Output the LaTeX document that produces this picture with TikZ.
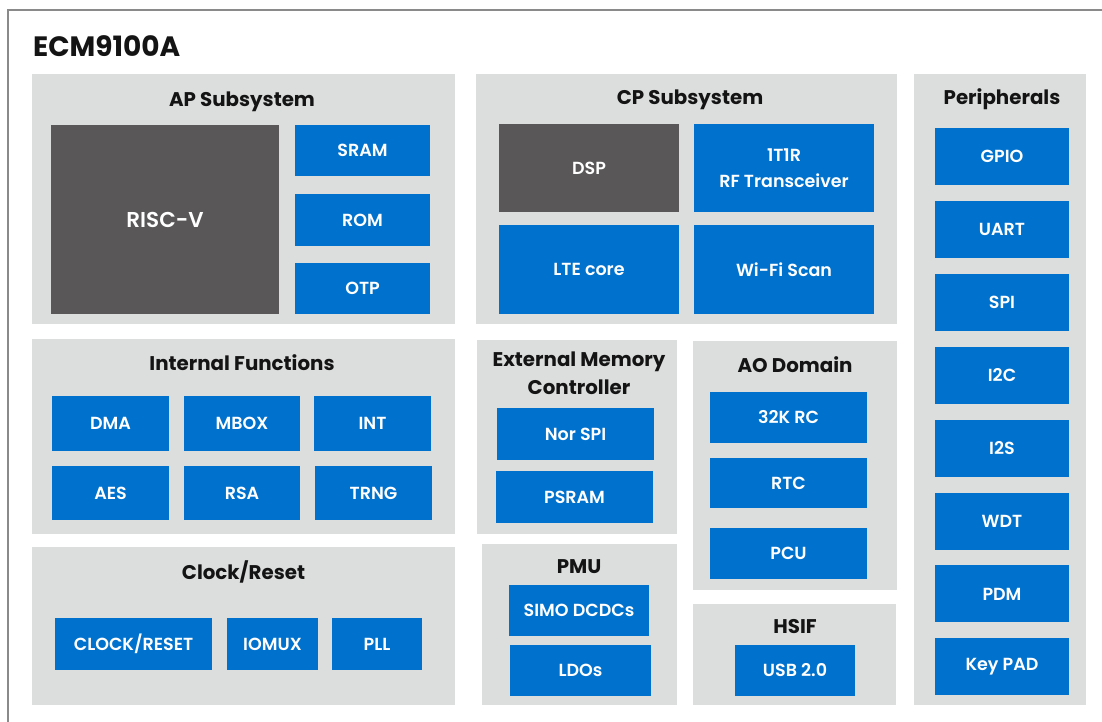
\documentclass[tikz,border=0pt]{standalone}
\usepackage{fontspec}
\setmainfont{Poppins}
\newfontfamily\semifont{Poppins SemiBold}
\usetikzlibrary{positioning}

\definecolor{chipblue}{RGB}{0,114,206}
\definecolor{panelgray}{RGB}{220,221,221}
\definecolor{coregray}{RGB}{89,87,88}
\definecolor{framegray}{RGB}{138,138,138}

\tikzset{
  wh/.style 2 args={minimum width=#1pt, minimum height=#2pt},
  panel/.style={fill=panelgray, inner sep=0pt},
  blk/.style={fill=chipblue, text=white, inner sep=0pt, align=center,
    font=\semifont\fontsize{17.5}{26}\selectfont},
  core/.style={blk, fill=coregray},
  ttl/.style={text=black!92, align=center, inner sep=0pt, yshift=-2pt,
    font=\bfseries\fontsize{19.8}{28}\selectfont},
}

\begin{document}
\begin{tikzpicture}[x=1pt, y=-1pt]
    \useasboundingbox (0,0) rectangle (1102,722);
    % outer frame
    \draw [framegray, line width=2pt] (8,722) -- (8,10) -- (1102,10);
    \node [ttl, anchor=west, font=\bfseries\fontsize{28}{32}\selectfont] (chip) at (33,44) {ECM9100A};

    % panels
    \node [panel, wh={423}{250}] (ap) at (243.5,199) {};
    \node [panel, wh={421}{250}] (cp) at (686.5,199) {};
    \node [panel, wh={172}{631}] (per) at (1000,389.5) {};
    \node [panel, wh={423}{195}] (intf) at (243.5,436.5) {};
    \node [panel, wh={423}{158}] (clk) at (243.5,626) {};
    \node [panel, wh={200}{194}] (emc) at (577,437) {};
    \node [panel, wh={195}{161}] (pmu) at (579.5,624.5) {};
    \node [panel, wh={204}{249}] (ao) at (795,465.5) {};
    \node [panel, wh={203}{101}] (hsif) at (794.5,654.5) {};

    % titles
    \node [ttl] (apttl) at (242,100) {AP Subsystem};
    \node [ttl] (cpttl) at (690,98) {CP Subsystem};
    \node [ttl] (perttl) at (1002,97) {Peripherals};
    \node [ttl] (intfttl) at (242,361) {Internal Functions};
    \node [ttl] (clkttl) at (243.5,570) {Clock/Reset};
    \node [ttl] (emcttl) at (579,371) {External Memory\\Controller};
    \node [ttl] (pmuttl) at (579,565) {PMU};
    \node [ttl] (aottl) at (795,363) {AO Domain};
    \node [ttl] (hsifttl) at (795,625) {HSIF};

    % AP subsystem
    \node [core, wh={228}{189}, font=\semifont\fontsize{21.5}{26}\selectfont] (risc) at (165,219.5) {RISC-V};
    \node [blk, wh={135}{51}] (sram) at (362.5,150.5) {SRAM};
    \node [blk, wh={135}{52}] (rom) at (362.5,220) {ROM};
    \node [blk, wh={135}{51}] (otp) at (362.5,288.5) {OTP};

    % CP subsystem
    \node [core, wh={180}{88}] (dsp) at (589,168) {DSP};
    \node [blk, wh={180}{88}] (rf) at (784,168) {1T1R\\RF Transceiver};
    \node [blk, wh={180}{89}] (lte) at (589,269.5) {LTE core};
    \node [blk, wh={180}{89}] (wifi) at (784,269.5) {Wi-Fi Scan};

    % internal functions
    \node [blk, wh={117}{55}] (dma) at (110.5,423.5) {DMA};
    \node [blk, wh={116}{55}] (mbox) at (242,423.5) {MBOX};
    \node [blk, wh={117}{55}] (int) at (372.5,423.5) {INT};
    \node [blk, wh={117}{54}] (aes) at (110.5,493) {AES};
    \node [blk, wh={116}{54}] (rsa) at (242,493) {RSA};
    \node [blk, wh={117}{54}] (trng) at (373.5,493) {TRNG};

    % clock/reset
    \node [blk, wh={157}{52}] (clkrst) at (133.5,644) {CLOCK/RESET};
    \node [blk, wh={91}{52}] (iomux) at (272.5,644) {IOMUX};
    \node [blk, wh={90}{52}] (pll) at (377,644) {PLL};

    % external memory controller
    \node [blk, wh={157}{52}] (nor) at (575.5,434) {Nor SPI};
    \node [blk, wh={157}{52}] (psram) at (574.5,497) {PSRAM};

    % PMU
    \node [blk, wh={140}{51}] (simo) at (579,610.5) {SIMO DCDCs};
    \node [blk, wh={141}{51}] (ldo) at (580.5,670.5) {LDOs};

    % AO domain
    \node [blk, wh={157}{51}] (rc) at (788.5,417.5) {32K RC};
    \node [blk, wh={157}{50}] (rtc) at (788.5,483) {RTC};
    \node [blk, wh={157}{51}] (pcu) at (788.5,553.5) {PCU};

    % HSIF
    \node [blk, wh={120}{51}] (usb) at (795,670.5) {USB 2.0};

    % peripherals
    \foreach \lbl/\nm [count=\i from 0] in {GPIO/gpio, UART/uart, SPI/spi, I2C/iic, I2S/iis, WDT/wdt, PDM/pdm, Key PAD/key}
        \node [blk, wh={134}{57}] (\nm) at (1002,156.5+72.9*\i) {\lbl};
\end{tikzpicture}
\end{document}
